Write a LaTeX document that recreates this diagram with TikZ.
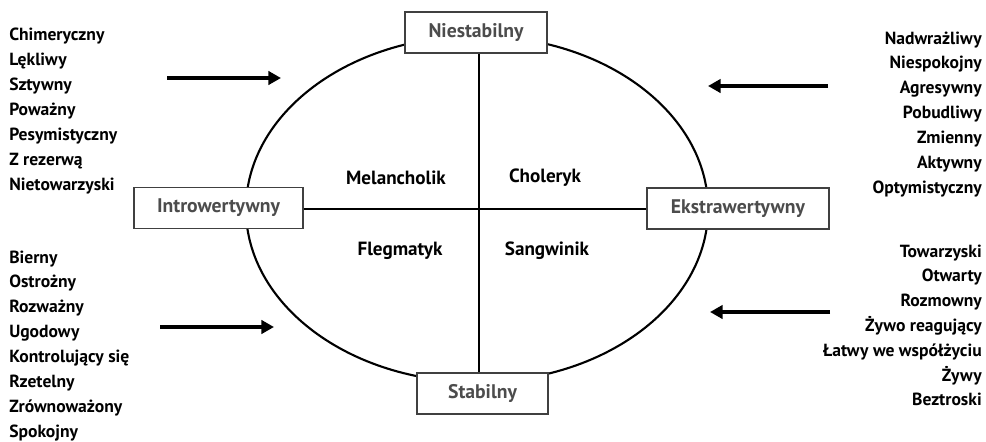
\documentclass[tikz,border=0pt]{standalone}
\usepackage{fontspec}
\setmainfont{PT Sans}
\usetikzlibrary{arrows.meta}
\usetikzlibrary{positioning}
\tikzset{
    oval line/.style={
        line width=1.5pt,
    },
    axis line/.style={
        line width=1.5pt,
    },
    pole box/.style={
        draw=black!75,
        line width=0.9pt,
        fill=white,
        text=black!70,
        font=\bfseries\fontsize{14}{16}\selectfont,
        minimum height=1.03cm,
        inner sep=0,
    },
    type label/.style={
        font=\bfseries\fontsize{13.6}{16}\selectfont,
        inner sep=0,
    },
    trait left/.style={
        anchor=base west,
        font=\bfseries\fontsize{12.5}{14}\selectfont,
        inner sep=0,
    },
    trait right/.style={
        anchor=base east,
        font=\bfseries\fontsize{12.5}{14}\selectfont,
        inner sep=0,
    },
    fat arrow/.style={
        line width=3.5pt,
        -{Triangle[length=9pt,width=9.5pt]},
    },
}

\begin{document}
\begin{tikzpicture}[x=0.025cm, y=-0.025cm]
    \useasboundingbox (0,0) rectangle (986,441);

    % middle of the cross
    \coordinate (o) at (479,209);
    \draw[oval line] (477,209) ellipse [x radius=5.775cm, y radius=4.325cm];

    % the four poles
    \node[pole box, minimum width=3.55cm] (niestabilny) at (476,32.5) {Niestabilny};
    \node[pole box, minimum width=3.28cm] (stabilny) at (482.5,393.5) {Stabilny};
    \node[pole box, minimum width=4.22cm] (introwertywny) at (218.5,208) {Introwertywny};
    \node[pole box, minimum width=4.55cm] (ekstrawertywny) at (738,208.5) {Ekstrawertywny};

    \draw[axis line] (niestabilny.south -| o) -- (stabilny.north -| o);
    \draw[axis line] (introwertywny.east |- o) -- (ekstrawertywny.west |- o);

    % temperaments
    \node[type label] (melancholik) at (396,178) {Melancholik};
    \node[type label] (choleryk) at (545,178) {Choleryk};
    \node[type label] (flegmatyk) at (400,251) {Flegmatyk};
    \node[type label] (sangwinik) at (547,251) {Sangwinik};

    % trait lists
    \foreach \word [count=\i from 0] in {Chimeryczny, Lękliwy, Sztywny, Poważny,
        Pesymistyczny, Z rezerwą, Nietowarzyski}
    {
        \node[trait left] (ul\i) at (9, {40+25*\i}) {\word};
    }
    \foreach \word [count=\i from 0] in {Bierny, Ostrożny, Rozważny, Ugodowy,
        Kontrolujący się, Rzetelny, Zrównoważony, Spokojny}
    {
        \node[trait left] (dl\i) at (9, {263+24.9*\i}) {\word};
    }
    \foreach \word [count=\i from 0] in {Nadwrażliwy, Niespokojny, Agresywny,
        Pobudliwy, Zmienny, Aktywny, Optymistyczny}
    {
        \node[trait right] (ur\i) at (982, {44+24.9*\i}) {\word};
    }
    \foreach \word [count=\i from 0] in {Towarzyski, Otwarty, Rozmowny,
        Żywo reagujący, Łatwy we współżyciu, Żywy, Beztroski}
    {
        \node[trait right] (dr\i) at (982, {257+24.8*\i}) {\word};
    }

    % arrows towards the oval
    \coordinate (ula) at (167,78);
    \coordinate (ulb) at (281,78);
    \coordinate (dla) at (160,327);
    \coordinate (dlb) at (274,327);
    \coordinate (ura) at (828,86);
    \coordinate (urb) at (708,86);
    \coordinate (dra) at (830,312);
    \coordinate (drb) at (710,312);
    \draw[fat arrow] (ula) -- (ulb);
    \draw[fat arrow] (dla) -- (dlb);
    \draw[fat arrow] (ura) -- (urb);
    \draw[fat arrow] (dra) -- (drb);

\end{tikzpicture}
\end{document}
